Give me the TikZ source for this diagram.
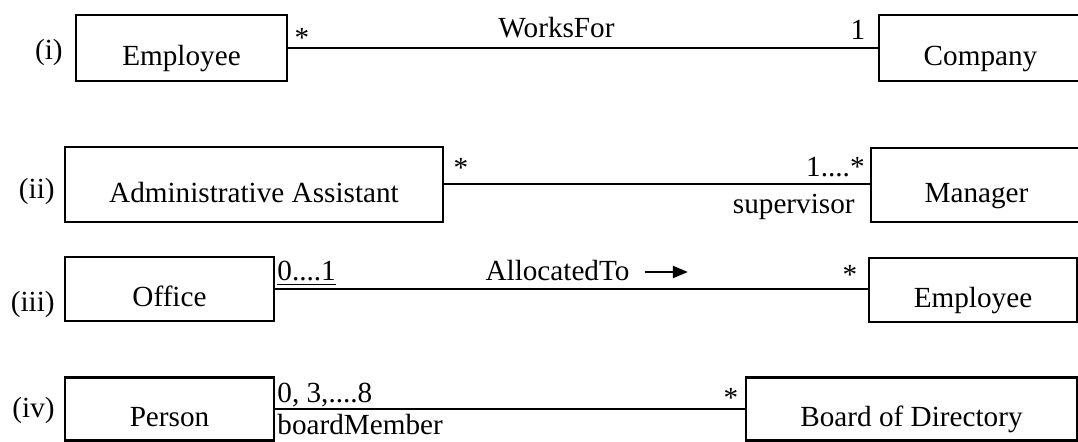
\documentclass[tikz,border=0pt]{standalone}
\usepackage{fontspec}
\setmainfont{Liberation Serif}
\usetikzlibrary{arrows.meta}
\tikzset{
	cls/.style={draw, line width=1.2pt, inner sep=0pt, text height=18pt, text depth=0pt},
	assoc/.style={line width=1pt},
	lbl/.style={inner sep=0pt, anchor=base},
}
\begin{document}
\begin{tikzpicture}[x=0.5pt,y=-0.5pt,font=\fontsize{14.6}{17}\selectfont]
	\useasboundingbox (0,0) rectangle (1078,442);
	\node[cls, minimum width=105.5pt, minimum height=33pt] (emp1) at (181.5,48) {Employee};
	\node[cls, minimum width=101.5pt, minimum height=33pt] (comp) at (980.5,48) {Company};
	\draw[assoc] (emp1) -- (comp);
	\node[lbl, anchor=base east] (n1) at (63,60) {(i)};
	\node[lbl] (m1a) at (302,48) {*};
	\node[lbl] (m1b) at (858,40) {1};
	\node[lbl] (r1) at (556.5,38) {WorksFor};

	\node[cls, minimum width=189pt, minimum height=37.5pt] (admin) at (254,184.5) {Administrative Assistant};
	\node[cls, minimum width=105.5pt, minimum height=37pt] (mgr) at (976.5,185) {Manager};
	\draw[assoc] (admin.east) -- (admin.east -| mgr.west);
	\node[lbl, anchor=base east] (n2) at (55,199) {(ii)};
	\node[lbl] (m2a) at (461,178) {*};
	\node[lbl, anchor=base east] (m2b) at (865,177) {1....*};
	\node[lbl, anchor=base east] (role2) at (855,214) {supervisor};

	\node[cls, minimum width=104.5pt, minimum height=32pt] (office) at (169.5,289) {Office};
	\node[cls, minimum width=104pt, minimum height=32pt] (emp3) at (973,290) {Employee};
	\draw[assoc] (office.east) -- (office.east -| emp3.west);
	\node[lbl, anchor=base east] (n3) at (55,312) {(iii)};
	\node[lbl, anchor=base west] (m3a) at (277,281) {\underline{0....1}};
	\node[lbl] (r3) at (557.5,281) {AllocatedTo};
	\coordinate (dir3) at ([xshift=7.5pt,yshift=4.5pt]r3.base east);
	\draw[line width=1.1pt, -{Triangle[length=7.5pt,width=6pt]}] (dir3) -- ++(43,0);
	\node[lbl] (m3b) at (850,285) {*};

	\node[cls, minimum width=104.5pt, minimum height=31.5pt] (person) at (169.5,409) {Person};
	\node[cls, minimum width=165.5pt, minimum height=31.5pt] (board) at (911.5,409) {Board of Directory};
	\draw[assoc] (person) -- (board);
	\node[lbl, anchor=base east] (n4) at (55,418) {(iv)};
	\node[lbl, anchor=base west] (m4a) at (277,403) {0, 3,....8};
	\node[lbl, anchor=base west] (role4) at (277,435) {boardMember};
	\node[lbl] (m4b) at (731,408) {*};
\end{tikzpicture}
\end{document}
